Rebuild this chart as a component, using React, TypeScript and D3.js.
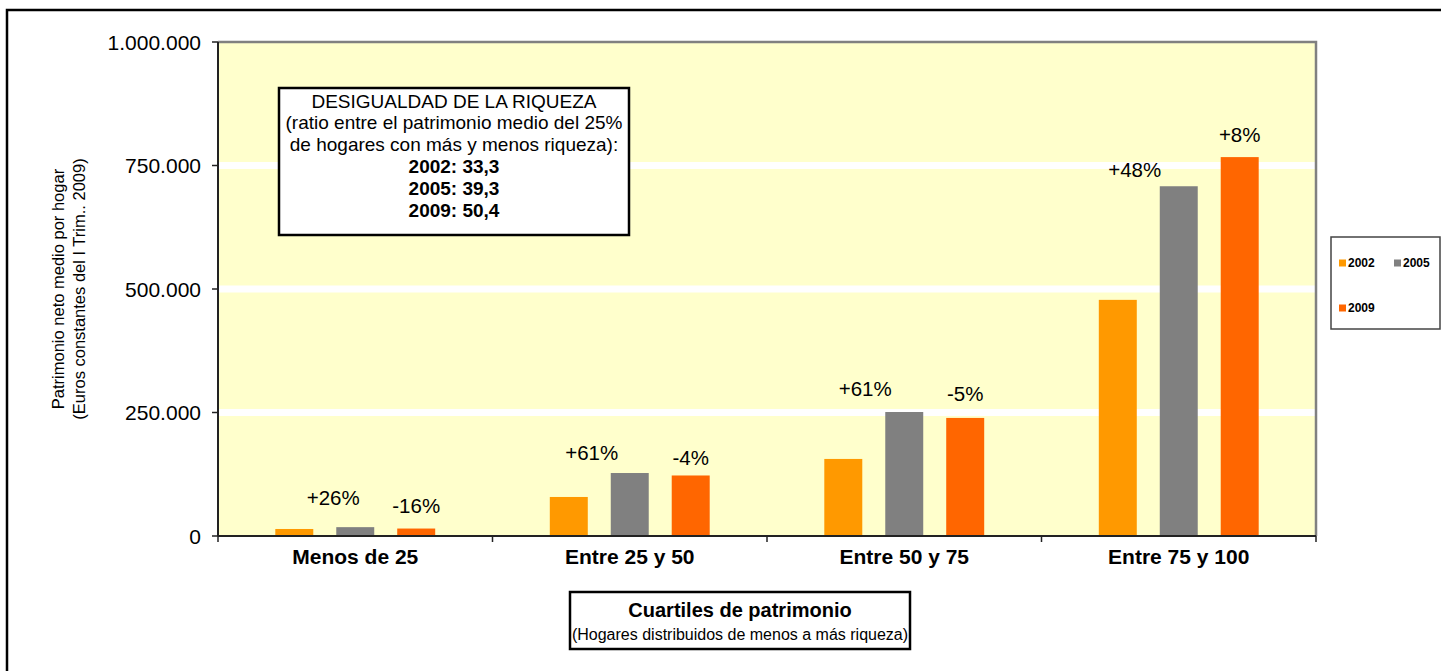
import React from "react";
import * as d3 from "d3";

// Data
const categories = ["Menos de 25", "Entre 25 y 50", "Entre 50 y 75", "Entre 75 y 100"];
const years = ["2002", "2005", "2009"];
const values2002 = [14200, 79000, 156000, 478000];
const values2005 = [17900, 127500, 251000, 708000];
const values2009 = [15100, 122500, 239000, 767000];
const change0205 = ["+26%", "+61%", "+61%", "+48%"];
const change0509 = ["-16%", "-4%", "-5%", "+8%"];
const yTicks = [0, 250000, 500000, 750000, 1000000];
const colors = ["#FF9900", "#808080", "#FF6600"];
const boxLines = [
  "DESIGUALDAD DE LA RIQUEZA",
  "(ratio entre el patrimonio medio del 25%",
  "de hogares con más y menos riqueza):",
  "2002: 33,3",
  "2005: 39,3",
  "2009: 50,4",
];
// hand placed change labels: horizontal nudge and lift above the bar (px)
const nudge0205 = [-22, -38, -39, -44];
const lift0205 = [30, 21, 24, 17];
const lift0509 = [23, 18, 24, 23];

const FONT = "'Liberation Sans', Arial, sans-serif";

export default function App() {
  const width = 1441,
    height = 671;
  const m = { left: 218, top: 42, right: 1316, bottom: 536 };

  const series = [values2002, values2005, values2009];

  const x = d3.scaleBand().domain(categories).range([m.left, m.right]).padding(0);
  const x1 = d3
    .scaleBand()
    .domain(years)
    .range([0, x.bandwidth()])
    .paddingInner(0.377)
    .paddingOuter(0.94);
  const y = d3.scaleLinear().domain([0, 1000000]).range([m.bottom, m.top]);

  const fmt = d3
    .formatLocale({ decimal: ",", thousands: ".", grouping: [3], currency: ["", "€"] })
    .format(",");

  const bounds = categories.map((c) => x(c)!).concat([m.right]);

  return (
    <svg
      width={width}
      height={height}
      style={{ position: "absolute", left: 0, top: 0, fontFamily: FONT }}
    >
      <rect x={0} y={0} width={width} height={height} fill="#fff" />
      {/* outer frame */}
      <rect x={7} y={10} width={1460} height={700} fill="none" stroke="#000" strokeWidth={2.5} />

      {/* plot background */}
      <rect
        x={m.left}
        y={m.top}
        width={m.right - m.left}
        height={m.bottom - m.top}
        fill="#FFFFCC"
      />
      {yTicks
        .filter((t) => t > 0 && t < 1000000)
        .map((t) => (
          <line key={t} x1={m.left} x2={m.right} y1={y(t)} y2={y(t)} stroke="#fff" strokeWidth={7} />
        ))}

      {/* bars */}
      {categories.map((c, i) => (
        <g key={c} transform={`translate(${x(c)},0)`}>
          {years.map((yr, j) => (
            <rect
              key={yr}
              x={x1(yr)}
              y={y(series[j][i])}
              width={x1.bandwidth()}
              height={m.bottom - y(series[j][i])}
              fill={colors[j]}
            />
          ))}
        </g>
      ))}

      {/* change labels */}
      {categories.map((c, i) => (
        <g key={c} fontSize={20.5} fill="#000" textAnchor="middle" dominantBaseline="central">
          <text
            x={x(c)! + x1("2005")! + x1.bandwidth() / 2 + nudge0205[i]}
            y={y(values2005[i]) - lift0205[i]}
          >
            {change0205[i]}
          </text>
          <text x={x(c)! + x1("2009")! + x1.bandwidth() / 2} y={y(values2009[i]) - lift0509[i]}>
            {change0509[i]}
          </text>
        </g>
      ))}

      {/* plot border top/right */}
      <polyline
        points={`${m.left},${m.top} ${m.right},${m.top} ${m.right},${m.bottom}`}
        fill="none"
        stroke="#808080"
        strokeWidth={2.5}
      />

      {/* y axis */}
      <line x1={m.left} x2={m.left} y1={m.top} y2={m.bottom} stroke="#222" strokeWidth={2} />
      {yTicks.map((t) => (
        <g key={t}>
          <line x1={m.left - 6} x2={m.left} y1={y(t)} y2={y(t)} stroke="#222" strokeWidth={1.5} />
          <text
            x={m.left - 17}
            y={y(t)}
            textAnchor="end"
            dominantBaseline="central"
            fontSize={21}
            fill="#000"
          >
            {fmt(t)}
          </text>
        </g>
      ))}
      <g
        transform={`translate(64, ${(m.top + m.bottom) / 2}) rotate(-90)`}
        fontSize={16.5}
        textAnchor="middle"
      >
        <text x={0} y={0}>Patrimonio neto medio por hogar</text>
        <text x={0} y={21}>(Euros constantes del I Trim.. 2009)</text>
      </g>

      {/* x axis */}
      <line x1={m.left} x2={m.right} y1={m.bottom} y2={m.bottom} stroke="#222" strokeWidth={2} />
      {bounds.map((b, i) => (
        <line key={i} x1={b} x2={b} y1={m.bottom} y2={m.bottom + 6} stroke="#222" strokeWidth={1.5} />
      ))}
      {categories.map((c) => (
        <text
          key={c}
          x={x(c)! + x.bandwidth() / 2}
          y={556}
          textAnchor="middle"
          dominantBaseline="central"
          fontSize={21}
          fontWeight="bold"
        >
          {c}
        </text>
      ))}

      {/* inequality box */}
      <rect x={279} y={88} width={350} height={147} fill="#fff" stroke="#000" strokeWidth={2.5} />
      {boxLines.map((l, i) => (
        <text
          key={l}
          x={454}
          y={101 + i * 21.9}
          textAnchor="middle"
          dominantBaseline="central"
          fontSize={19}
          fontWeight={i >= 3 ? "bold" : "normal"}
        >
          {l}
        </text>
      ))}

      {/* x title box */}
      <rect x={570} y={592} width={340} height={57} fill="#fff" stroke="#000" strokeWidth={2.5} />
      <text x={740} y={610} textAnchor="middle" dominantBaseline="central" fontSize={20} fontWeight="bold">
        Cuartiles de patrimonio
      </text>
      <text x={740} y={634} textAnchor="middle" dominantBaseline="central" fontSize={16}>
        (Hogares distribuidos de menos a más riqueza)
      </text>

      {/* legend */}
      <rect x={1331} y={237} width={109} height={92} fill="#fff" stroke="#444" strokeWidth={1.5} />
      {years.map((yr, j) => {
        const lx = j === 1 ? 1394 : 1339;
        const ly = j === 2 ? 308 : 263;
        return (
          <g key={yr}>
            <rect x={lx} y={ly - 3.5} width={7} height={7} fill={colors[j]} />
            <text x={lx + 9} y={ly} dominantBaseline="central" fontSize={12} fontWeight="bold">
              {yr}
            </text>
          </g>
        );
      })}
    </svg>
  );
}
